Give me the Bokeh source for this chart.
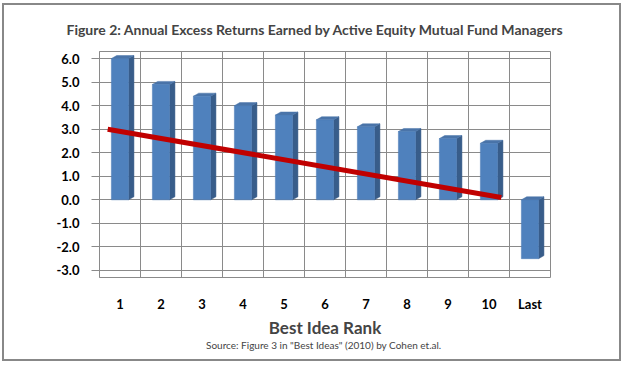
from bokeh.plotting import figure
from bokeh.models import Range1d, FixedTicker, Title, CustomJSTickFormatter
from bokeh.embed import file_html
from bokeh.resources import INLINE

# ---- data ----
ranks = ["1", "2", "3", "4", "5", "6", "7", "8", "9", "10", "Last"]
excess_returns = [6.0, 4.9, 4.4, 4.0, 3.6, 3.4, 3.1, 2.9, 2.6, 2.4, -2.5]
trend_x = [0.7, 10.3]
trend_y = [3.0, 0.1]
y_ticks = [-3, -2, -1, 0, 1, 2, 3, 4, 5, 6]

title_text = "Figure 2: Annual Excess Returns Earned by Active Equity Mutual Fund Managers"
x_title = "Best Idea Rank"
source_text = 'Source: Figure 3 in  "Best Ideas" (2010) by Cohen et.al.'

FONT = "Lato"
xs = list(range(1, len(ranks) + 1))

p = figure(width=619, height=358, output_backend="svg", toolbar_location=None,
           x_range=Range1d(0.5, 11.5), y_range=Range1d(-3.3, 6.3),
           min_border_left=95, min_border_right=73, min_border_top=45, min_border_bottom=86)
p.styles = {"border": "2px solid #888888", "margin-left": "2px", "margin-top": "3px"}

p.title.text = title_text
p.title.align = "left"
p.title.text_font = FONT
p.title.text_font_size = "14px"
p.title.text_font_style = "bold"
p.title.offset = -33
p.title.standoff = 27

# grid
p.xgrid.ticker = FixedTicker(ticks=[x + 0.5 for x in xs[:-1]])
p.xgrid.grid_line_color = "#8a8a8a"
p.ygrid.grid_line_color = "#8a8a8a"
p.outline_line_color = "#8a8a8a"

# y axis
p.yaxis.ticker = FixedTicker(ticks=y_ticks)
p.yaxis.formatter = CustomJSTickFormatter(code="return tick.toFixed(1);")
p.yaxis.major_label_text_font = FONT
p.yaxis.major_label_text_font_style = "bold"
p.yaxis.major_label_text_font_size = "13px"
p.yaxis.major_label_text_color = "black"
p.yaxis.axis_line_color = "#8a8a8a"
p.yaxis.major_tick_line_color = "#8a8a8a"
p.yaxis.major_tick_out = 8
p.yaxis.major_tick_in = 0
p.yaxis.minor_tick_line_color = None
p.yaxis.major_label_standoff = 12

# x axis
p.xaxis.ticker = FixedTicker(ticks=xs)
p.xaxis.major_label_overrides = {x: r for x, r in zip(xs, ranks)}
p.xaxis.major_label_text_font = FONT
p.xaxis.major_label_text_font_style = "bold"
p.xaxis.major_label_text_font_size = "13px"
p.xaxis.major_label_text_color = "black"
p.xaxis.axis_line_color = None
p.xaxis.major_tick_line_color = None
p.xaxis.minor_tick_line_color = None
p.xaxis.major_tick_out = 0
p.xaxis.major_tick_in = 0
p.xaxis.major_label_standoff = 18
p.xaxis.axis_label = x_title
p.xaxis.axis_label_text_font = FONT
p.xaxis.axis_label_text_font_style = "bold"
p.xaxis.axis_label_text_font_size = "17px"
p.xaxis.axis_label_standoff = 2

src = Title(text=source_text, align="center", text_font=FONT, text_font_size="10px",
            text_font_style="normal", standoff=-8, offset=0)
p.add_layout(src, "below")

# 3D-looking bars
half = 0.21
dx, dy = 0.13, 0.13
front_top = [max(v, 0) for v in excess_returns]
front_bot = [min(v, 0) for v in excess_returns]
side_xs = [[x + half, x + half + dx, x + half + dx, x + half] for x in xs]
side_ys = [[b, b + dy, t + dy, t] for b, t in zip(front_bot, front_top)]
top_xs = [[x - half, x - half + dx, x + half + dx, x + half] for x in xs]
top_ys = [[t, t + dy, t + dy, t] for t in front_top]

p.patches(side_xs, side_ys, fill_color="#385D8A", line_color="#385D8A", line_width=0.5)
p.patches(top_xs, top_ys, fill_color="#4A74A9", line_color="#4A74A9", line_width=0.5)
p.vbar(x=xs, width=2 * half, top=front_top, bottom=front_bot,
       fill_color="#4F81BD", line_color="#4A7AB4", line_width=0.5)

# trend line
p.line(trend_x, trend_y, line_color="#C00000", line_width=5)

open("out.html", "w").write(file_html(p, INLINE))
